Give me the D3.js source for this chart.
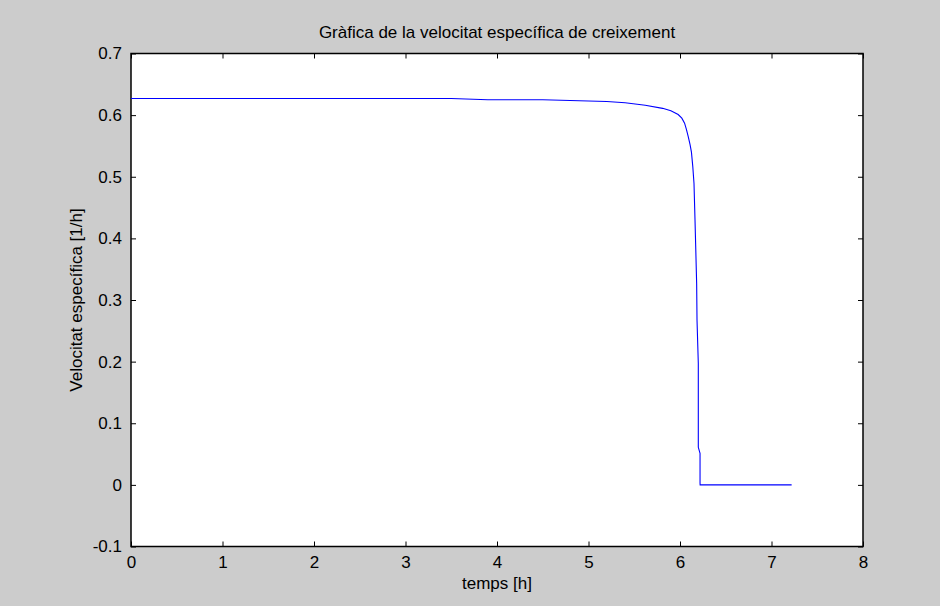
<!DOCTYPE html>
<html>
<head>
<meta charset="utf-8">
<script src="https://cdn.jsdelivr.net/npm/d3@7"></script>
<style>
  html, body { margin: 0; padding: 0; background: #cccccc; }
  svg { display: block; }
  text { font-family: "Liberation Sans", Arial, sans-serif; fill: #000; }
</style>
</head>
<body>
<svg id="chart" width="940" height="606"></svg>
<script>
// Specific growth rate over time
const temps = [0, 1, 2, 3, 3.5, 3.9, 4.5, 5.0, 5.2, 5.4, 5.62, 5.81, 5.9, 5.98, 6.02, 6.05, 6.07, 6.09, 6.11, 6.125, 6.14, 6.153, 6.164, 6.182, 6.186, 6.2, 6.2, 6.219, 6.219, 6.22, 7.22];
const velocitat = [0.627, 0.627, 0.627, 0.627, 0.627, 0.625, 0.625, 0.623, 0.622, 0.620, 0.616, 0.611, 0.607, 0.601, 0.595, 0.587, 0.577, 0.565, 0.552, 0.540, 0.516, 0.489, 0.430, 0.327, 0.267, 0.197, 0.061, 0.051, 0.003, 0, 0];
const xTicks = [0, 1, 2, 3, 4, 5, 6, 7, 8];
const yTicks = [-0.1, 0, 0.1, 0.2, 0.3, 0.4, 0.5, 0.6, 0.7];

const title = "Gràfica de la velocitat específica de creixement";
const xLabel = "temps [h]";
const yLabel = "Velocitat específica [1/h]";

const svg = d3.select("#chart");
const mLeft = 131, mRight = 863, mTop = 53.5, mBottom = 546.5;
const fontSize = "17px";

const x = d3.scaleLinear().domain([0, 8]).range([mLeft, mRight]);
const y = d3.scaleLinear().domain([-0.1, 0.7]).range([mBottom, mTop]);

// Plot area
svg.append("rect")
  .attr("x", mLeft).attr("y", mTop)
  .attr("width", mRight - mLeft).attr("height", mBottom - mTop)
  .attr("fill", "#ffffff");

const fmtYLabel = d => (Math.abs(d) < 1e-9 ? "0" : d3.format(".1f")(d).replace("−", "-"));

// Bottom axis with inward ticks
const xAxisB = d3.axisBottom(x).tickValues(xTicks).tickSize(-5).tickPadding(9).tickFormat(d3.format("d"));
const gxB = svg.append("g").attr("transform", `translate(0,${mBottom})`).call(xAxisB);
// Top axis (ticks only)
const xAxisT = d3.axisTop(x).tickValues(xTicks).tickSize(-5).tickFormat("");
const gxT = svg.append("g").attr("transform", `translate(0,${mTop})`).call(xAxisT);
// Left axis
const yAxisL = d3.axisLeft(y).tickValues(yTicks).tickSize(-5).tickPadding(9).tickFormat(fmtYLabel);
const gyL = svg.append("g").attr("transform", `translate(${mLeft},0)`).call(yAxisL);
// Right axis (ticks only)
const yAxisR = d3.axisRight(y).tickValues(yTicks).tickSize(-5).tickFormat("");
const gyR = svg.append("g").attr("transform", `translate(${mRight},0)`).call(yAxisR);

[gxB, gxT, gyL, gyR].forEach(g => {
  g.select(".domain").remove();
  g.selectAll(".tick line").attr("stroke", "#000").attr("stroke-width", 1);
  g.selectAll("text").style("font-size", fontSize).style("font-family", "'Liberation Sans', Arial, sans-serif").attr("fill", "#000");
});
gxB.selectAll("text").attr("dy", "0.71em");

// Axes box
svg.append("rect")
  .attr("x", mLeft).attr("y", mTop)
  .attr("width", mRight - mLeft).attr("height", mBottom - mTop)
  .attr("fill", "none").attr("stroke", "#000").attr("stroke-width", 1.5);

// Curve
const line = d3.line().x((d, i) => x(temps[i])).y(d => y(d));
svg.append("path")
  .datum(velocitat)
  .attr("d", line)
  .attr("fill", "none")
  .attr("stroke", "#0000ff")
  .attr("stroke-width", 1.1);

// Labels
svg.append("text")
  .attr("x", (mLeft + mRight) / 2).attr("y", 38)
  .attr("text-anchor", "middle").style("font-size", fontSize)
  .text(title);

svg.append("text")
  .attr("x", (mLeft + mRight) / 2).attr("y", 589)
  .attr("text-anchor", "middle").style("font-size", fontSize)
  .text(xLabel);

svg.append("text")
  .attr("transform", `translate(82,${(mTop + mBottom) / 2}) rotate(-90)`)
  .attr("text-anchor", "middle").style("font-size", fontSize)
  .text(yLabel);
</script>
</body>
</html>
